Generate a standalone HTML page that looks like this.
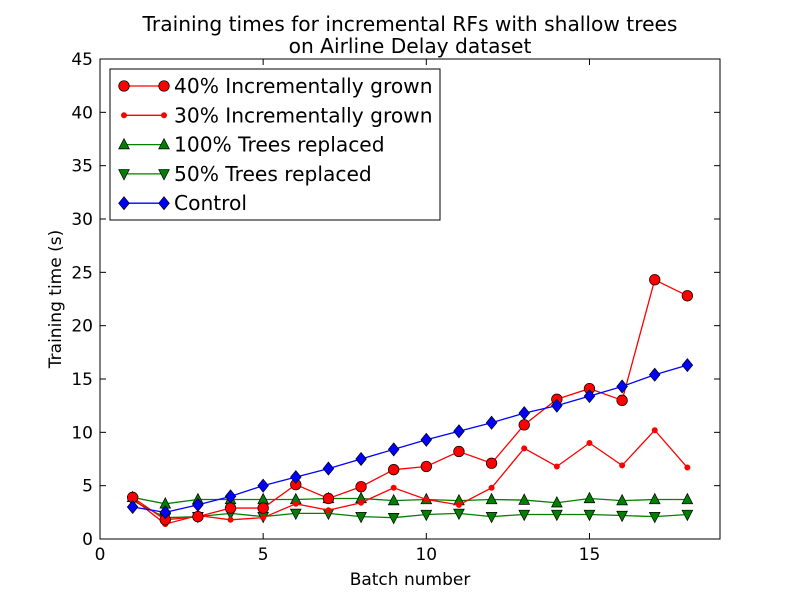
<!DOCTYPE html>
<html><head><meta charset="utf-8"><style>
body{margin:0;background:#fff;}
svg text{font-family:"DejaVu Sans","Liberation Sans",sans-serif;}
</style></head><body>
<svg id="chart" width="800" height="600" xmlns="http://www.w3.org/2000/svg">
<rect width="800" height="600" fill="#fff"/>
<text x="410" y="31" font-size="20.2" text-anchor="middle">Training times for incremental RFs with shallow trees</text>
<text x="410" y="53" font-size="20.2" text-anchor="middle">on Airline Delay dataset</text>
<g id="axes"></g>
<g id="series"></g>
<rect x="100" y="59" width="620" height="480" fill="none" stroke="#000" stroke-width="1"/>
<text x="410" y="585" font-size="17" text-anchor="middle">Batch number</text>
<text transform="translate(61,299) rotate(-90)" font-size="17" text-anchor="middle">Training time (s)</text>
<g id="legend"></g>
</svg>
<script>
const batches=[1,2,3,4,5,6,7,8,9,10,11,12,13,14,15,16,17,18];
const inc40=[3.9,1.8,2.1,2.9,2.9,5.1,3.8,4.9,6.5,6.8,8.2,7.1,10.7,13.1,14.1,13.0,24.3,22.8];
const inc30=[3.8,1.4,2.2,1.8,2.0,3.3,2.7,3.4,4.8,3.7,3.2,4.8,8.5,6.8,9.0,6.9,10.2,6.7];
const rep100=[3.9,3.3,3.7,3.7,3.7,3.7,3.8,3.8,3.6,3.7,3.6,3.7,3.65,3.4,3.8,3.6,3.7,3.7];
const rep50=[3.6,2.0,2.1,2.4,2.1,2.4,2.4,2.1,2.0,2.3,2.4,2.1,2.3,2.3,2.3,2.2,2.1,2.3];
const control=[3.0,2.5,3.2,4.0,5.0,5.8,6.6,7.5,8.4,9.3,10.1,10.9,11.8,12.5,13.4,14.3,15.4,16.3];
const xTicks=[0,5,10,15];
const yTicks=[0,5,10,15,20,25,30,35,40,45];
const NS="http://www.w3.org/2000/svg";
const X=v=>100+v*(620/19);
const Y=v=>539-v*(480/45);
function mk(t,a,p){const e=document.createElementNS(NS,t);for(const k in a)e.setAttribute(k,a[k]);p.appendChild(e);return e;}
const ax=document.getElementById('axes');
xTicks.forEach(t=>{
  const l=mk('line',{x1:X(t),x2:X(t),y1:539,y2:533,stroke:'#000'},ax);
  
  
  const l2=mk('line',{x1:X(t),x2:X(t),y1:59,y2:65,stroke:'#000'},ax);
  
  
  const tx=mk('text',{x:X(t),y:560,'font-size':17,'text-anchor':'middle'},ax);tx.textContent=t;
  
  
});
yTicks.forEach(t=>{
  const l=mk('line',{x1:100,x2:106,y1:Y(t),y2:Y(t),stroke:'#000'},ax);
  
  
  const l2=mk('line',{x1:714,x2:720,y1:Y(t),y2:Y(t),stroke:'#000'},ax);
  
  
  const tx=mk('text',{x:93,y:Y(t)+6,'font-size':17,'text-anchor':'end'},ax);tx.textContent=t;
  
  
});
function marker(type,x,y,color,p){
  if(type==='circle')return mk('circle',{cx:x,cy:y,r:5.3,fill:color,stroke:'#000','stroke-width':0.7},p);
  if(type==='dot')return mk('circle',{cx:x,cy:y,r:2.5,fill:color,stroke:color},p);
  if(type==='up')return mk('polygon',{points:`${x},${y-6} ${x-5.3},${y+4.3} ${x+5.3},${y+4.3}`,fill:color,stroke:'#000','stroke-width':0.7},p);
  if(type==='down')return mk('polygon',{points:`${x},${y+6} ${x-5.3},${y-4.3} ${x+5.3},${y-4.3}`,fill:color,stroke:'#000','stroke-width':0.7},p);
  return mk('polygon',{points:`${x},${y-6.5} ${x+5.3},${y} ${x},${y+6.5} ${x-5.3},${y}`,fill:color,stroke:'#000','stroke-width':0.7},p);
}
const defs=[
 {name:'40% Incrementally grown',data:inc40,color:'#ff0000',m:'circle',id:'inc40'},
 {name:'30% Incrementally grown',data:inc30,color:'#ff0000',m:'dot',id:'inc30'},
 {name:'100% Trees replaced',data:rep100,color:'#007f00',m:'up',id:'rep100'},
 {name:'50% Trees replaced',data:rep50,color:'#007f00',m:'down',id:'rep50'},
 {name:'Control',data:control,color:'#0000ff',m:'diamond',id:'control'}];
const sg=document.getElementById('series');
const order=[2,3,1,0,4];
order.forEach(i=>{const d=defs[i];
  const g=mk('g',{},sg);
  
  
  const pl=mk('polyline',{points:batches.map((b,j)=>X(b)+','+Y(d.data[j])).join(' '),fill:'none',stroke:d.color,'stroke-width':1.3},g);
  
  
  batches.forEach((b,j)=>{const m=marker(d.m,X(b),Y(d.data[j]),d.color,g);
    
    });
});
const lg=document.getElementById('legend');
const box=mk('rect',{x:110,y:69,width:330,height:151,fill:'#fff',stroke:'#000'},lg);


defs.forEach((d,i)=>{const y=86+i*29.3;
  const g=mk('g',{},lg);
  
  
  mk('line',{x1:124,x2:164,y1:y,y2:y,stroke:d.color,'stroke-width':1.3},g);
  marker(d.m,124,y,d.color,g);marker(d.m,164,y,d.color,g);
  const t=mk('text',{x:174,y:y+7,'font-size':20.2},g);t.textContent=d.name;
});
</script>
</body></html>
